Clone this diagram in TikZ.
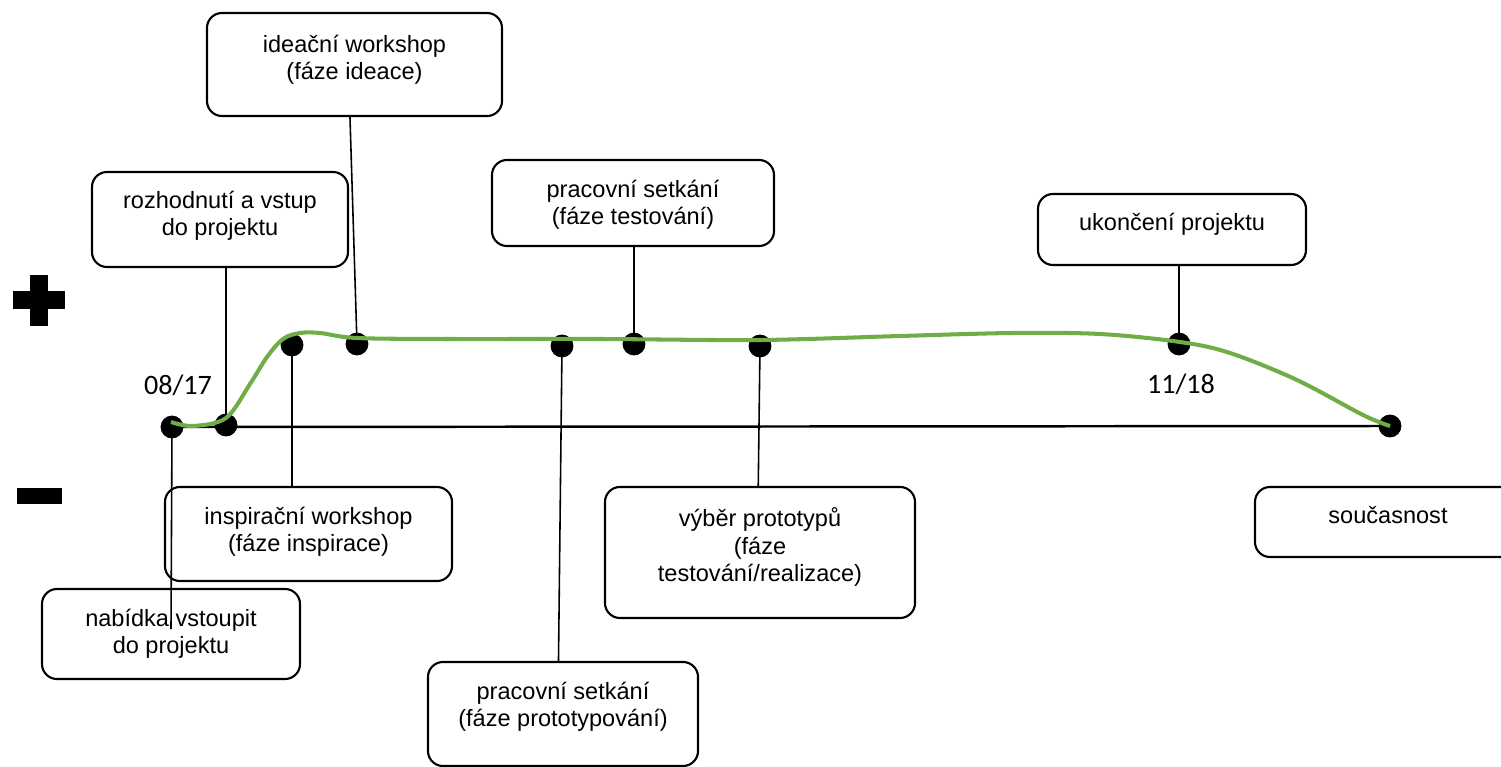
\documentclass[tikz,border=0pt]{standalone}
\usepackage{fontspec}
\setmainfont{Liberation Sans}
\newfontfamily\datefont{Carlito}
\usetikzlibrary{fit,calc}
\definecolor{curvegreen}{HTML}{70AD47}
\begin{document}
\begin{tikzpicture}[x=0.02cm,y=-0.02cm,
  box/.style={draw=black, line width=1.2pt, rounded corners=8.5pt, inner sep=0pt},
  lbl/.style={font=\fontsize{13.4}{15.6}\selectfont, align=center, anchor=base, inner sep=0pt},
  datelbl/.style={font=\datefont\fontsize{16}{19}\selectfont, anchor=base, inner sep=0pt},
  dot/.style={circle, fill=black, minimum size=13pt, inner sep=0pt},
  axisline/.style={line width=1.4pt},
  conn/.style={line width=0.9pt},
  mood/.style={curvegreen, line width=2.3pt}]
\useasboundingbox (0,0) rectangle (1501,767);
\clip (0,0) rectangle (1501,767);

% plus and minus signs
\fill (30,275) rectangle (48,326);
\fill (13,291) rectangle (65,309);
\fill (17,488) rectangle (62,504);

% event boxes
\node[box, fit={(207,13) (502,116)}] (b1) {};
\node[box, fit={(92,172) (348,267)}] (b2) {};
\node[box, fit={(492,160) (774,246)}] (b3) {};
\node[box, fit={(1038,194) (1306,265)}] (b4) {};
\node[box, fit={(165,487) (452,581)}] (b5) {};
\node[box, fit={(42,589) (300,679)}] (b6) {};
\node[box, fit={(428,662) (698,766)}] (b7) {};
\node[box, fit={(605,487) (915,618)}] (b8) {};
\node[box, fit={(1255,487) (1521,557)}] (b9) {};

% box texts (anchored at the baseline of their last line)
\node[lbl] (t1) at ($(b1.north)+(0,67.5)$) {ideační workshop\\(fáze ideace)};
\node[lbl] (t2) at ($(b2.north)+(0,65)$) {rozhodnutí a vstup\\do projektu};
\node[lbl] (t3) at ($(b3.north)+(0,65.5)$) {pracovní setkání\\(fáze testování)};
\node[lbl] (t4) at ($(b4.north)+(0,38)$) {ukončení projektu};
\node[lbl] (t5) at ($(b5.north)+(0,65.5)$) {inspirační workshop\\(fáze inspirace)};
\node[lbl] (t6) at ($(b6.north)+(0,65.5)$) {nabídka vstoupit\\do projektu};
\node[lbl] (t7) at ($(b7.north)+(0,65.5)$) {pracovní setkání\\(fáze prototypování)};
\node[lbl] (t8) at ($(b8.north)+(0,95.5)$) {výběr prototypů\\(fáze\\testování/realizace)};
\node[lbl] (t9) at (1388,523) {současnost};

% timeline points
\node[dot] (d1) at (172,427) {};
\node[dot] (d2) at (226,425) {};
\node[dot] (d3) at (292,345) {};
\node[dot] (d4) at (357,344) {};
\node[dot] (d5) at (562,346) {};
\node[dot] (d6) at (634,344) {};
\node[dot] (d7) at (760,346) {};
\node[dot] (d8) at (1179,344) {};
\node[dot] (d9) at (1390,426) {};

% dates
\node[datelbl] (l1) at (178,394) {08/17};
\node[datelbl] (l2) at (1181,393) {11/18};

% time axis and leader lines
\draw[axisline] (d1.center) -- (d9.center);
\coordinate (e1) at (171,629);
\draw[conn] (d1.center) -- (e1);
\draw[conn] (b2.south -| d2) -- (d2.center);
\draw[conn] (d3.center) -- (b5.north -| d3);
\draw[conn] ([xshift=-4pt]b1.south -| d4) -- (d4.center);
\draw[conn] (d5.center) -- ([xshift=-2pt]b7.north -| d5);
\draw[conn] (b3.south -| d6) -- (d6.center);
\draw[conn] (d7.center) -- ([xshift=-1pt]b8.north -| d7);
\draw[conn] (b4.south -| d8) -- (d8.center);

% mood curve
\draw[mood] plot[smooth, tension=0.55] coordinates {
  (171,422) (193,426) (226,418) (250,384) (267,357) (283,339) (300,333)
  (320,333) (357,338) (450,339) (600,339) (760,340) (900,336) (1013,333)
  (1100,334) (1180,342) (1230,353) (1297,380) (1363,415) (1390,426)};
\end{tikzpicture}
\end{document}
